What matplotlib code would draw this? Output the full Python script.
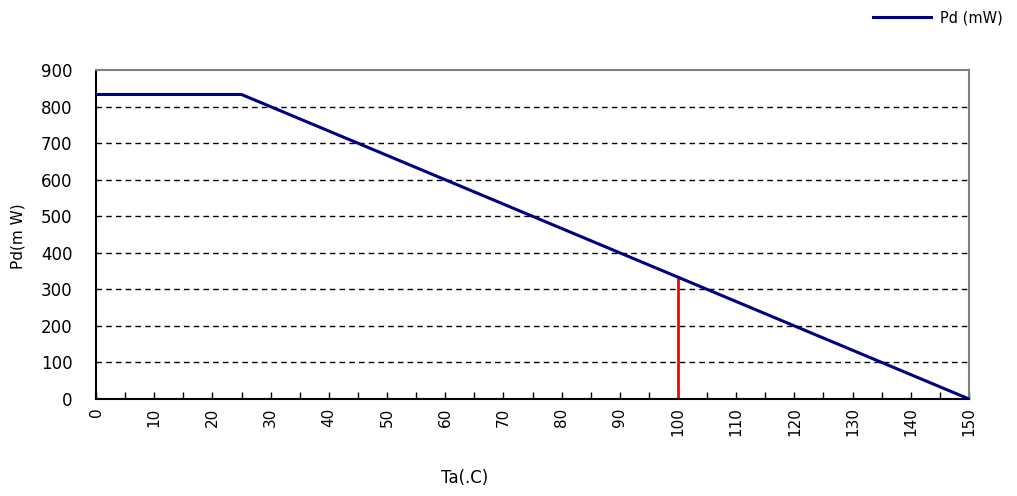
import matplotlib
matplotlib.use("Agg")
import matplotlib.pyplot as plt

# derating curve: flat at max power until 25C, then linear down to 0 at 150C
ta = [0, 25, 150]
pd_mw = [833, 833, 0]

# marker at 100C
mark_ta = 100
mark_pd = 333

x_ticks = list(range(0, 151, 10))
y_ticks = list(range(0, 901, 100))

fig = plt.figure(figsize=(10.17, 4.96), dpi=100)
ax = fig.add_axes([0.0944, 0.1956, 0.8584, 0.6633])

line, = ax.plot(ta, pd_mw, color="#000080", lw=2.2, label="Pd (mW)", zorder=3)
ax.plot([mark_ta, mark_ta], [0, mark_pd], color="red", lw=2, zorder=2)

ax.set_xlim(0, 150)
ax.set_ylim(0, 900)
ax.set_xticks(x_ticks)
ax.set_xticks(range(0, 151, 5), minor=True)
ax.set_yticks(y_ticks)
ax.tick_params(axis="x", which="both", direction="in", length=5, width=1, labelsize=11,
               labelrotation=90, pad=6)
ax.tick_params(axis="y", length=0, labelsize=12, pad=17)

for y in y_ticks[1:-1]:
    ax.axhline(y, color="black", lw=1, ls=(0, (4, 3)), zorder=1)

ax.spines["left"].set_color("black")
ax.spines["bottom"].set_color("black")
ax.spines["left"].set_linewidth(1.5)
ax.spines["bottom"].set_linewidth(1.5)
ax.spines["top"].set_color("#808080")
ax.spines["right"].set_color("#808080")
ax.spines["top"].set_linewidth(1.5)
ax.spines["right"].set_linewidth(1.5)

fig.text(18 / 1017, 1 - 236 / 496, "Pd(m W)", fontsize=11, rotation=90,
         ha="center", va="center")
fig.text(465 / 1017, 1 - 478 / 496, "Ta(.C)", fontsize=12, ha="center", va="center")

fig.legend(handles=[line], loc="center", bbox_to_anchor=(938 / 1017, 1 - 18 / 496),
           frameon=False, fontsize=10.5, handlelength=4, handletextpad=0.6)

fig.savefig("out.png", dpi=100)
